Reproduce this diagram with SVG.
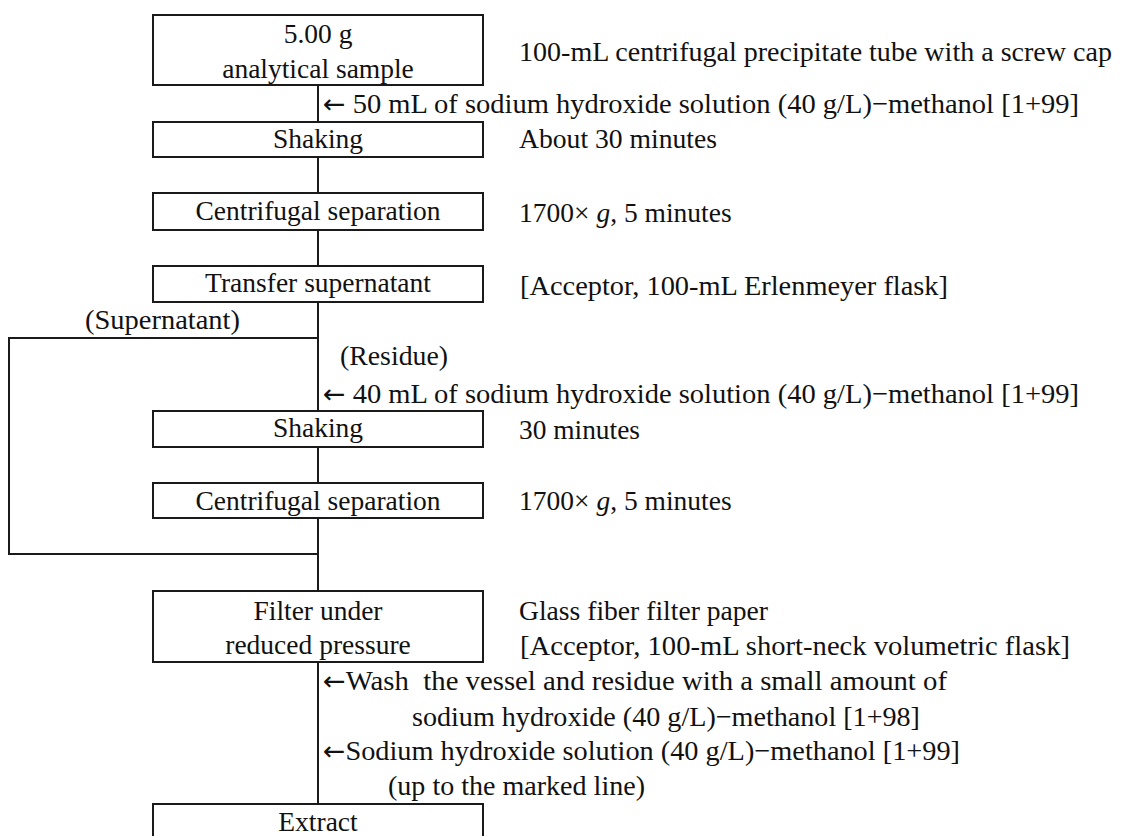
<svg xmlns="http://www.w3.org/2000/svg" width="1123" height="836" viewBox="0 0 1123 836">
<style>
text{font-family:"Liberation Serif","Times New Roman",serif;font-size:27.5px;fill:#111}
.c{text-anchor:middle}
.ar{font-family:"DejaVu Sans",sans-serif;font-size:26px}
.box{fill:#fff;stroke:#1a1a1a;stroke-width:2}
.ln{fill:none;stroke:#1a1a1a;stroke-width:2}
</style>
<rect width="1123" height="836" fill="#fff"/>
<g id="connectors">
<path class="ln" d="M318 85V122M318 157V193M318 230V266M318 302V411M318 447V483M318 518V591M318 662V804"/>
<path class="ln" d="M318 338H9V554H318"/>
</g>
<g id="n1"><rect class="box" x="153" y="15" width="330" height="70"/><text class="c" x="318" y="43">5.00 g</text><text class="c" x="318" y="78">analytical sample</text></g>
<g id="n2"><rect class="box" x="153" y="122" width="330" height="35"/><text class="c" x="318" y="148">Shaking</text></g>
<g id="n3"><rect class="box" x="153" y="193" width="330" height="37"/><text class="c" x="318" y="220">Centrifugal separation</text></g>
<g id="n4"><rect class="box" x="153" y="266" width="330" height="36"/><text class="c" x="318" y="292">Transfer supernatant</text></g>
<g id="n5"><rect class="box" x="153" y="411" width="330" height="36"/><text class="c" x="318" y="437">Shaking</text></g>
<g id="n6"><rect class="box" x="153" y="483" width="330" height="35"/><text class="c" x="318" y="510">Centrifugal separation</text></g>
<g id="n7"><rect class="box" x="153" y="591" width="330" height="71"/><text class="c" x="318" y="620">Filter under</text><text class="c" x="318" y="654">reduced pressure</text></g>
<g id="n8"><rect class="box" x="153" y="804" width="330" height="50"/><text class="c" x="318" y="831">Extract</text></g>
<g id="notes">
<text x="519" y="61" textLength="593" lengthAdjust="spacingAndGlyphs">100-mL centrifugal precipitate tube with a screw cap</text>
<text x="323" y="113" textLength="756" lengthAdjust="spacingAndGlyphs"><tspan class="ar">←</tspan> 50 mL of sodium hydroxide solution (40 g/L)−methanol [1+99]</text>
<text x="519" y="148" textLength="198" lengthAdjust="spacingAndGlyphs">About 30 minutes</text>
<text x="519" y="222">1700× <tspan font-style="italic">g</tspan>, 5 minutes</text>
<text x="520" y="295" textLength="428" lengthAdjust="spacingAndGlyphs">[Acceptor, 100-mL Erlenmeyer flask]</text>
<text x="85" y="329" textLength="155" lengthAdjust="spacingAndGlyphs">(Supernatant)</text>
<text x="340" y="365" textLength="108" lengthAdjust="spacingAndGlyphs">(Residue)</text>
<text x="323" y="403" textLength="756" lengthAdjust="spacingAndGlyphs"><tspan class="ar">←</tspan> 40 mL of sodium hydroxide solution (40 g/L)−methanol [1+99]</text>
<text x="519" y="439" textLength="121" lengthAdjust="spacingAndGlyphs">30 minutes</text>
<text x="519" y="510">1700× <tspan font-style="italic">g</tspan>, 5 minutes</text>
<text x="519" y="620" textLength="249" lengthAdjust="spacingAndGlyphs">Glass fiber filter paper</text>
<text x="520" y="655" textLength="550" lengthAdjust="spacingAndGlyphs">[Acceptor, 100-mL short-neck volumetric flask]</text>
<text x="323" y="690" xml:space="preserve" textLength="624" lengthAdjust="spacingAndGlyphs"><tspan class="ar">←</tspan>Wash  the vessel and residue with a small amount of</text>
<text x="412" y="726" textLength="508" lengthAdjust="spacingAndGlyphs">sodium hydroxide (40 g/L)−methanol [1+98]</text>
<text x="323" y="760" textLength="637" lengthAdjust="spacingAndGlyphs"><tspan class="ar">←</tspan>Sodium hydroxide solution (40 g/L)−methanol [1+99]</text>
<text x="388" y="795" textLength="257" lengthAdjust="spacingAndGlyphs">(up to the marked line)</text>
</g>
</svg>
